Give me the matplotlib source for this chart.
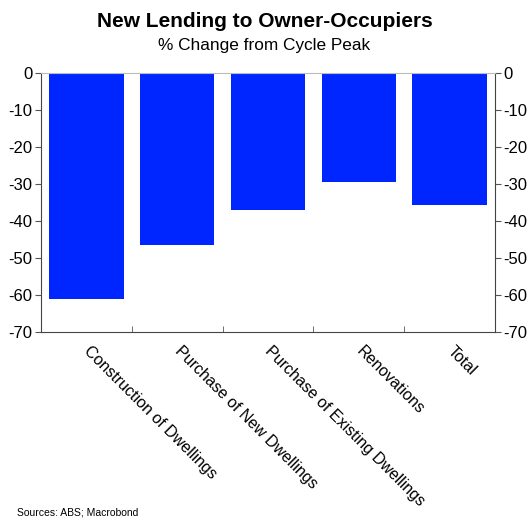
import numpy as np
import matplotlib.pyplot as plt
from matplotlib.transforms import ScaledTranslation

plt.rcParams['font.family'] = ['Liberation Sans', 'DejaVu Sans']
plt.rcParams['axes.unicode_minus'] = False

categories = ['Construction of Dwellings', 'Purchase of New Dwellings',
              'Purchase of Existing Dwellings', 'Renovations', 'Total']
changes = [-61.2, -46.6, -37.0, -29.5, -35.8]

fig = plt.figure(figsize=(5.29, 5.19), dpi=100)
ax = fig.add_axes([0.0775, 0.3603, 0.8585, 0.499])

x = np.arange(len(categories))
ax.bar(x, changes, width=0.82, color='#0026ff')

ax.set_xlim(-0.5, len(categories) - 0.5)
ax.set_ylim(-70, 0)
ax.set_yticks(np.arange(-70, 1, 10))
ax.tick_params(axis='y', labelsize=12, direction='out', length=4, color='#555555',
               labelright=True, right=True, pad=2)

ax.set_xticks(x)
ax.set_xticklabels(categories, rotation=-45, ha='left', va='top',
                   rotation_mode='anchor', fontsize=11.5)
ax.tick_params(axis='x', length=0, pad=8)
shift = ScaledTranslation(5 / 100, 0, fig.dpi_scale_trans)
for lbl in ax.get_xticklabels():
    lbl.set_transform(lbl.get_transform() + shift)
ax.set_xticks(x[:-1] + 0.5, minor=True)
ax.tick_params(axis='x', which='minor', direction='in', length=4, color='#555555')

for side in ['left', 'right', 'bottom']:
    ax.spines[side].set_color('#444444')
ax.spines['top'].set_color('#bbbbbb')

fig.text(0.5, 0.958, 'New Lending to Owner-Occupiers', ha='center', va='center',
         fontsize=15, fontweight='bold')
fig.text(0.5, 0.912, '% Change from Cycle Peak', ha='center', va='center', fontsize=12.4)
fig.text(0.032, 0.013, 'Sources: ABS; Macrobond', ha='left', va='center', fontsize=7.5)

fig.savefig('out.png', dpi=100)
